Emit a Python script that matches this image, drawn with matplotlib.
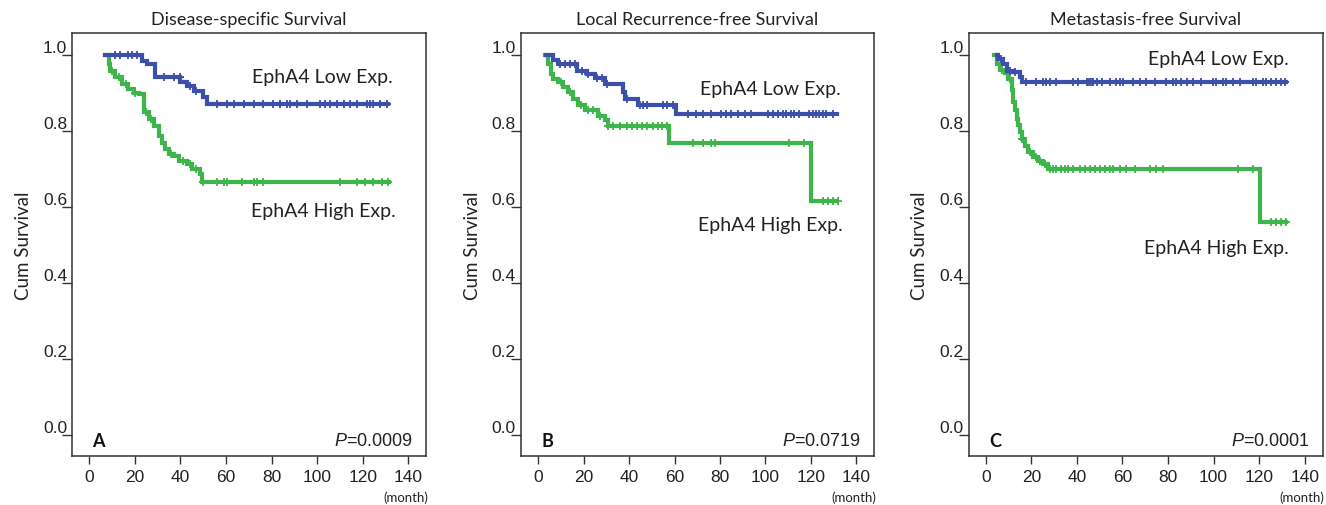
import numpy as np
import matplotlib
matplotlib.use("Agg")
import matplotlib.pyplot as plt

plt.rcParams['mathtext.fontset'] = 'custom'
plt.rcParams['mathtext.it'] = 'Liberation Sans:italic'
plt.rcParams['mathtext.rm'] = 'Liberation Sans'

# ---------------- data ----------------
titles = ["Disease-specific Survival", "Local Recurrence-free Survival", "Metastasis-free Survival"]
panel_letters = ["A", "B", "C"]
p_values = ["0.0009", "0.0719", "0.0001"]
x_ticks = [0, 20, 40, 60, 80, 100, 120, 140]
y_ticks = [0.0, 0.2, 0.4, 0.6, 0.8, 1.0]
y_tick_labels = ["0.0", "0.2", "0.4", "0.6", "0.8", "1.0"]
low_label = "EphA4 Low Exp."
high_label = "EphA4 High Exp."

# Panel A - Disease-specific survival
a_low_t = [7, 23, 25.3, 29, 40, 42.8, 45.8, 50, 51.6, 131]
a_low_s = [1.0, 0.985, 0.976, 0.941, 0.930, 0.919, 0.906, 0.888, 0.871, 0.871]
a_low_c = [11.4, 13.6, 17.2, 18.7, 20.9, 32.6, 37, 39.9, 44, 47, 56, 60.4, 63.3, 67.7, 72.1,
           76.4, 80.8, 83.8, 86.7, 88, 91, 95.5, 101.3, 103.5, 105.7, 108.6, 111.6, 114.5,
           117.4, 121.8, 123.3, 124.7, 127.7, 130.6]
a_high_t = [7, 8.5, 9.2, 11.4, 14.3, 17.2, 19.4, 21.6, 23.8, 26, 28.2, 30.4, 31.9, 33.3,
            34.8, 37, 39.2, 42.8, 45, 48.7, 49.4, 131.5]
a_high_s = [1.0, 0.976, 0.958, 0.941, 0.923, 0.910, 0.901, 0.897, 0.849, 0.831, 0.813, 0.787,
            0.769, 0.752, 0.738, 0.734, 0.721, 0.712, 0.699, 0.686, 0.665, 0.665]
a_high_c = [10, 13, 16, 20, 25, 27, 36, 41, 44, 47, 50.1, 56, 59, 60.4, 67, 72.1, 73.6, 76.4,
            110, 117.4, 121, 124.7, 128.4, 131.3]

# Panel B - Local recurrence-free survival
b_low_t = [3.3, 6.7, 8.9, 17, 21.4, 25, 29.4, 37.4, 38.1, 43.9, 60.8, 131.5]
b_low_s = [1.0, 0.986, 0.975, 0.959, 0.950, 0.939, 0.924, 0.902, 0.885, 0.869, 0.845, 0.845]
b_low_c = [9.7, 11.8, 14, 16.2, 19.2, 22.1, 25.7, 27.9, 30.1, 38.9, 44.8, 46.2, 47.7, 55,
           56.5, 59.4, 66, 69.6, 72.5, 76.2, 80.6, 82.8, 85, 87.9, 90.8, 93.8, 101, 103.3,
           105.5, 107.6, 109.1, 111.3, 112.8, 115, 119.3, 120.8, 122.3, 123.7, 125.2, 126.7,
           129.6]
b_high_t = [3.1, 4.5, 5.5, 6.7, 8.9, 11.1, 13.3, 15.5, 17.7, 20.6, 26.5, 29.4, 30.8, 57.6,
            120.2, 131.7]
b_high_s = [1.0, 0.977, 0.950, 0.937, 0.929, 0.915, 0.902, 0.885, 0.867, 0.854, 0.840, 0.829,
            0.812, 0.768, 0.615, 0.615]
b_high_c = [10, 14, 19, 22, 24, 27, 30.9, 33, 36, 38.9, 41.1, 43.3, 45.5, 47.7, 50.6, 52.8,
            54.3, 56.5, 68.1, 72.5, 76.2, 77.7, 110.6, 117.2, 125.2, 127.4, 129.6, 131.8]

# Panel C - Metastasis-free survival
c_low_t = [4.7, 5.4, 7.6, 9.1, 12, 14.9, 15.7, 131.6]
c_low_s = [1.0, 0.990, 0.977, 0.959, 0.955, 0.942, 0.929, 0.929]
c_low_c = [6.5, 10.5, 13, 17.8, 22.2, 25.2, 26.6, 28.1, 31, 38.3, 40.5, 44.2, 45.0, 45.6,
           46.4, 47.1, 48.6, 50.8, 54.4, 57.3, 58.8, 60.3, 64.6, 67.6, 70.5, 74.2, 79.3,
           82.2, 83.7, 85.9, 88.1, 91, 94.6, 99.7, 101.2, 104.1, 105.6, 108.5, 111.5, 117.3,
           118.8, 121.7, 123.2, 125.4, 127.6, 129.7, 131.2]
c_high_t = [3.8, 4.7, 6.1, 8.3, 9.8, 11.3, 12, 12.7, 13.5, 14.2, 14.9, 15.7, 17.1, 18.6,
            20.8, 23, 25.1, 27.3, 120.2, 131.9]
c_high_s = [1.0, 0.977, 0.960, 0.952, 0.938, 0.907, 0.876, 0.854, 0.832, 0.815, 0.797, 0.779,
            0.761, 0.744, 0.731, 0.722, 0.713, 0.699, 0.561, 0.561]
c_high_c = [7, 10.5, 16, 19.5, 22, 24, 26, 28.1, 29.5, 31, 33.2, 34.7, 36.1, 38.3, 41.2,
            43.4, 45.6, 47.8, 50, 52.2, 54.4, 55.9, 58.8, 61.7, 65.4, 72, 74.9, 77.8, 110.7,
            117.3, 125.4, 127.6, 129.7, 131.9]

panels = [
    (a_low_t, a_low_s, a_low_c, a_high_t, a_high_s, a_high_c),
    (b_low_t, b_low_s, b_low_c, b_high_t, b_high_s, b_high_c),
    (c_low_t, c_low_s, c_low_c, c_high_t, c_high_s, c_high_c),
]

# ---------------- style ----------------
BLUE = "#3C4FAA"
GREEN = "#3DB54A"
TXT = "Lato"
NUM = "Liberation Sans"
W, H = 1326, 506
lefts = [72, 521, 968.5]
widths = [354, 353, 354]
ax_top, ax_bottom = 34.3, 456.7

low_pos = [(133.3, 0.942), (133.2, 0.911), (133.1, 0.991)]
high_pos = [(134.6, 0.590), (133.9, 0.554), (133.1, 0.493)]

fig = plt.figure(figsize=(W / 100, H / 100), dpi=100)


def step_value(t, s, x):
    i = np.searchsorted(np.asarray(t), x, side="right") - 1
    i = np.clip(i, 0, len(s) - 1)
    return np.asarray(s)[i]


for k in range(3):
    lt, ls, lc, ht, hs, hc = panels[k]
    ax = fig.add_axes([lefts[k] / W, (H - ax_bottom) / H, widths[k] / W, (ax_bottom - ax_top) / H])
    ax.set_xlim(-7.6, 147.8)
    ax.set_ylim(-0.055, 1.057)

    for t, s, c, col in [(ht, hs, hc, GREEN), (lt, ls, lc, BLUE)]:
        ax.step(t, s, where="post", color=col, lw=3.0, solid_joinstyle="miter")
        c = np.asarray(c)
        ax.plot(c, step_value(t, s, c), ls="none", marker="+", ms=5.5, mew=1.3, color=col)

    for sp in ax.spines.values():
        sp.set_linewidth(1.1)
        sp.set_color("#333333")

    ax.set_xticks(x_ticks)
    ax.set_xticklabels([str(v) for v in x_ticks], fontfamily=NUM, fontsize=12.5, color="#222222")
    ax.tick_params(axis="x", direction="out", length=6, width=1, pad=3.5, color="#333333")
    ax.set_yticks(y_ticks)
    ax.set_yticklabels(y_tick_labels, fontfamily=NUM, fontsize=12.5, color="#222222")
    ax.tick_params(axis="y", direction="out", length=7.2, width=1, pad=-3.6, color="#333333")
    for lbl in ax.get_yticklabels():
        lbl.set_verticalalignment("bottom")

    ax.set_title(titles[k], fontfamily=TXT, fontsize=13, color="#222222", pad=7)
    ax.set_ylabel("Cum Survival", fontfamily=TXT, fontsize=13.5, color="#222222", labelpad=8)

    ax.text(low_pos[k][0], low_pos[k][1], low_label, ha="right", va="center",
            fontfamily=TXT, fontsize=14, color="#222222")
    ax.text(high_pos[k][0], high_pos[k][1], high_label, ha="right", va="center",
            fontfamily=TXT, fontsize=14, color="#222222")
    ax.text(4, -0.0145, panel_letters[k], ha="center", va="center",
            fontfamily=TXT, fontweight="bold", fontsize=13, color="#111111")
    ax.text(142.1, -0.0145, r"$\mathit{P}$=" + p_values[k], ha="right", va="center",
            fontfamily=NUM, fontsize=13, color="#222222")
    ax.text(1.006, -0.098, "(month)", transform=ax.transAxes, ha="right", va="center",
            fontfamily=TXT, fontsize=9.5, color="#222222")

fig.savefig("out.png", dpi=100)
